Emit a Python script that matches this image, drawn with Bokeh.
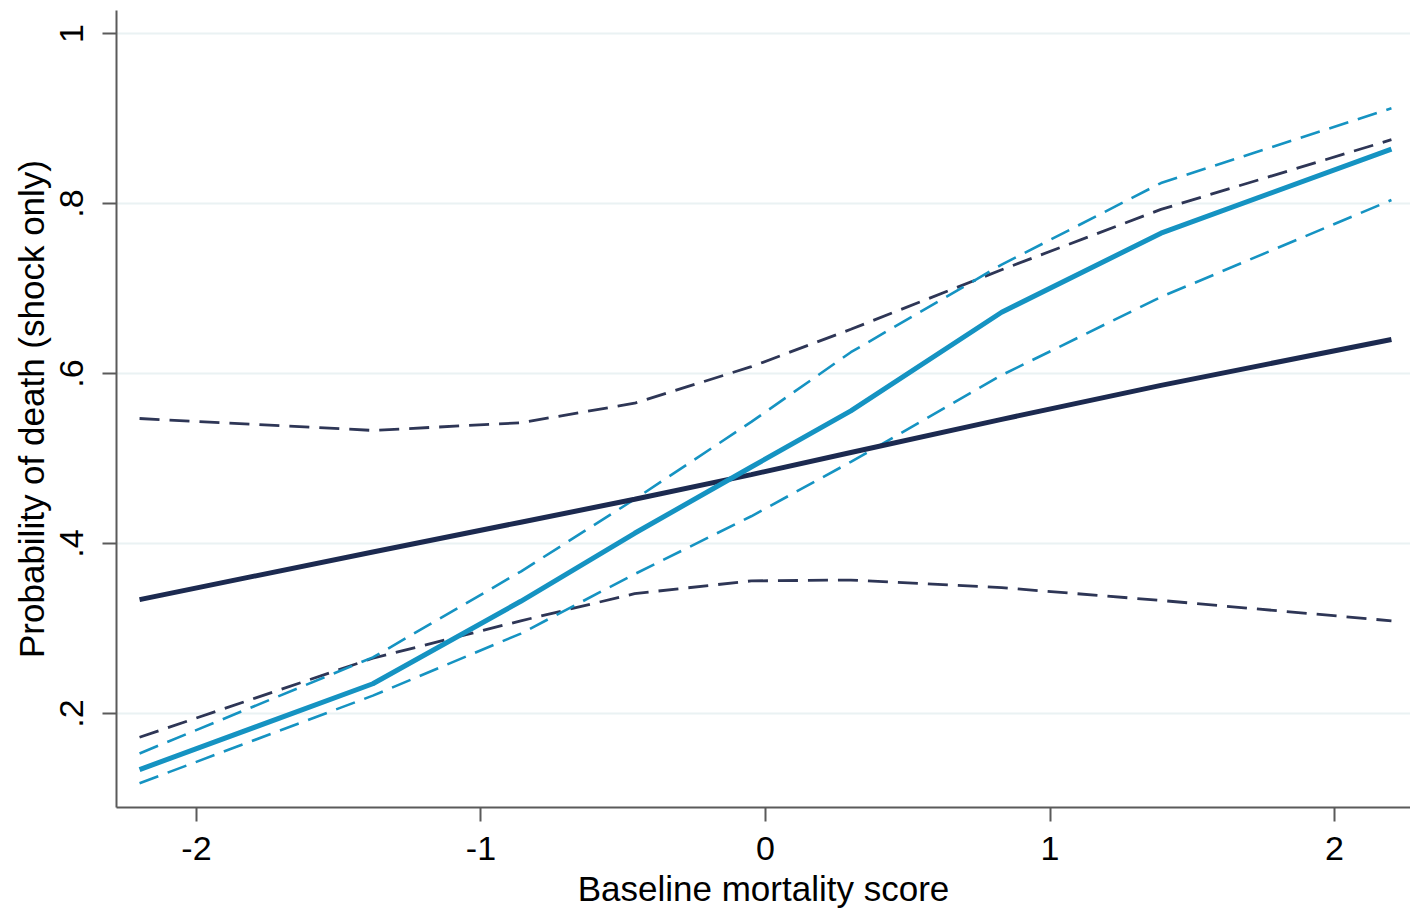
from bokeh.plotting import figure
from bokeh.models import FixedTicker, CustomJSTickFormatter, Range1d
from bokeh.embed import file_html
from bokeh.resources import INLINE

# Baseline mortality score (x) at which the curves were evaluated
score = [-2.2, -1.38, -0.86, -0.46, -0.05, 0.30, 0.83, 1.39, 2.2]

# Series 1 (light blue): prediction and 95% CI
blue_mid = [0.134, 0.235, 0.332, 0.412, 0.490, 0.556, 0.672, 0.765, 0.864]
blue_hi = [0.153, 0.266, 0.367, 0.452, 0.543, 0.625, 0.728, 0.824, 0.912]
blue_lo = [0.118, 0.221, 0.294, 0.364, 0.432, 0.496, 0.598, 0.690, 0.804]

# Series 2 (navy): prediction and 95% CI
navy_mid = [0.334, 0.390, 0.425, 0.452, 0.481, 0.507, 0.546, 0.586, 0.640]
navy_hi = [0.547, 0.533, 0.542, 0.565, 0.608, 0.652, 0.722, 0.793, 0.875]
navy_lo = [0.172, 0.265, 0.309, 0.341, 0.356, 0.357, 0.348, 0.333, 0.309]

x_ticks = [-2, -1, 0, 1, 2]
y_ticks = [0.2, 0.4, 0.6, 0.8, 1.0]

BLUE = "#1593C2"
NAVY = "#1C2A50"
NAVY_D = "#2E3656"
FONT = "Liberation Sans"

p = figure(width=1410, height=910, output_backend="svg", toolbar_location=None,
           x_range=Range1d(-2.281, 2.267), y_range=Range1d(0.0894, 1.027),
           min_border_left=116, min_border_right=0, min_border_top=10, min_border_bottom=96)
p.outline_line_color = None
p.background_fill_color = "white"
p.border_fill_color = "white"

p.line(score, navy_hi, line_color=NAVY_D, line_width=2.8, line_dash="20 10")
p.line(score, navy_lo, line_color=NAVY_D, line_width=2.8, line_dash="20 10")
p.line(score, blue_hi, line_color=BLUE, line_width=2.6, line_dash="20 10")
p.line(score, blue_lo, line_color=BLUE, line_width=2.6, line_dash="20 10")
p.line(score, navy_mid, line_color=NAVY, line_width=5)
p.line(score, blue_mid, line_color=BLUE, line_width=5)

p.xgrid.grid_line_color = None
p.ygrid.grid_line_color = "#EAF2F3"
p.ygrid.grid_line_width = 2

p.xaxis.ticker = FixedTicker(ticks=x_ticks)
p.yaxis.ticker = FixedTicker(ticks=y_ticks)
p.xaxis.formatter = CustomJSTickFormatter(code="return String(Math.round(tick));")
p.yaxis.formatter = CustomJSTickFormatter(code="""
    if (tick >= 0.999) return '1';
    return tick.toFixed(1).replace(/^0/, '');
""")
p.yaxis.major_label_orientation = "vertical"

for ax in (p.xaxis[0], p.yaxis[0]):
    ax.axis_line_color = "#5A5A5A"
    ax.axis_line_width = 2
    ax.major_tick_line_color = "#5A5A5A"
    ax.major_tick_line_width = 2
    ax.major_tick_out = 14
    ax.major_tick_in = 0
    ax.minor_tick_line_color = None
    ax.major_label_text_font = FONT
    ax.major_label_text_font_size = "34px"
    ax.major_label_text_color = "black"
    ax.axis_label_text_font = FONT
    ax.axis_label_text_font_size = "35px"
    ax.axis_label_text_font_style = "normal"
    ax.axis_label_text_color = "black"

p.xaxis.axis_label = "Baseline mortality score"
p.yaxis.axis_label = "Probability of death (shock only)"
p.xaxis.major_label_standoff = 15
p.yaxis.major_label_standoff = 19
p.xaxis.axis_label_standoff = 6
p.yaxis.axis_label_standoff = 7

open("out.html", "w").write(file_html(p, INLINE))
